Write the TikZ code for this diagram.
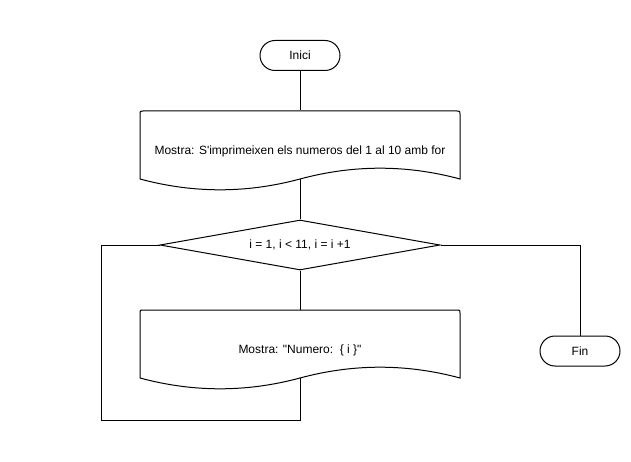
\documentclass[tikz,border=0pt]{standalone}
\usepackage{fontspec}
\setmainfont{Liberation Sans}
\usetikzlibrary{shapes.geometric}
\tikzset{
  lbl/.style={font=\fontsize{12pt}{14pt}\selectfont, inner sep=0pt},
  term/.style={lbl, draw, rounded corners=15pt, minimum width=80pt, minimum height=30pt},
  cond/.style={lbl, draw, diamond, aspect=5.6, minimum width=280pt, minimum height=50pt},
  docarea/.style={lbl, minimum width=320pt, minimum height=80pt},
  link/.style={draw, line width=1pt},
}
\newcommand{\docshape}[3]{% x0, top, x1 ; h=80, dy=24
  \draw[line width=1pt]
    (#1,#2+68) -- (#1,#2+3) .. controls (#1,#2) .. (#1+3,#2)
    -- (#3-3,#2) .. controls (#3,#2) .. (#3,#2+3) -- (#3,#2+68)
    .. controls (#3-53.33,#2+53.6) and ({(#1+#3)/2+53.33},#2+53.6) .. ({(#1+#3)/2},#2+68)
    .. controls ({(#1+#3)/2-53.33},#2+82.4) and (#1+53.33,#2+82.4) .. (#1,#2+68) -- cycle;
}
\begin{document}
\begin{tikzpicture}[x=1pt,y=-1pt, line width=1pt]
\useasboundingbox (0,0) rectangle (631,462);
\node[term] (inici) at (300,55.5) {Inici};
\docshape{140}{111}{460}
\node[docarea] (d1) at (300,151) {Mostra: S\textquotesingle imprimeixen els numeros del 1 al 10 amb for};
\coordinate (d1b) at (300,179);
\node[cond] (cond) at (300,245) {i = 1, i < 11, i = i +1};
\docshape{140}{310}{460}
\node[docarea] (d2) at (300,350) {Mostra: \textquotedbl Numero:~~\{ i \}\textquotedbl};
\coordinate (d2b) at (300,378);
\node[term] (fin) at (580,351) {Fin};
\coordinate (lb) at (101,420);
\draw[link] (inici.south) -- (d1.north);
\draw[link] (d1b) -- (cond.north);
\draw[link] (cond.south) -- (d2.north);
\draw[link] (d2b) |- (lb) |- (cond.west);
\draw[link] (cond.east) -| (fin.north);
\end{tikzpicture}
\end{document}
